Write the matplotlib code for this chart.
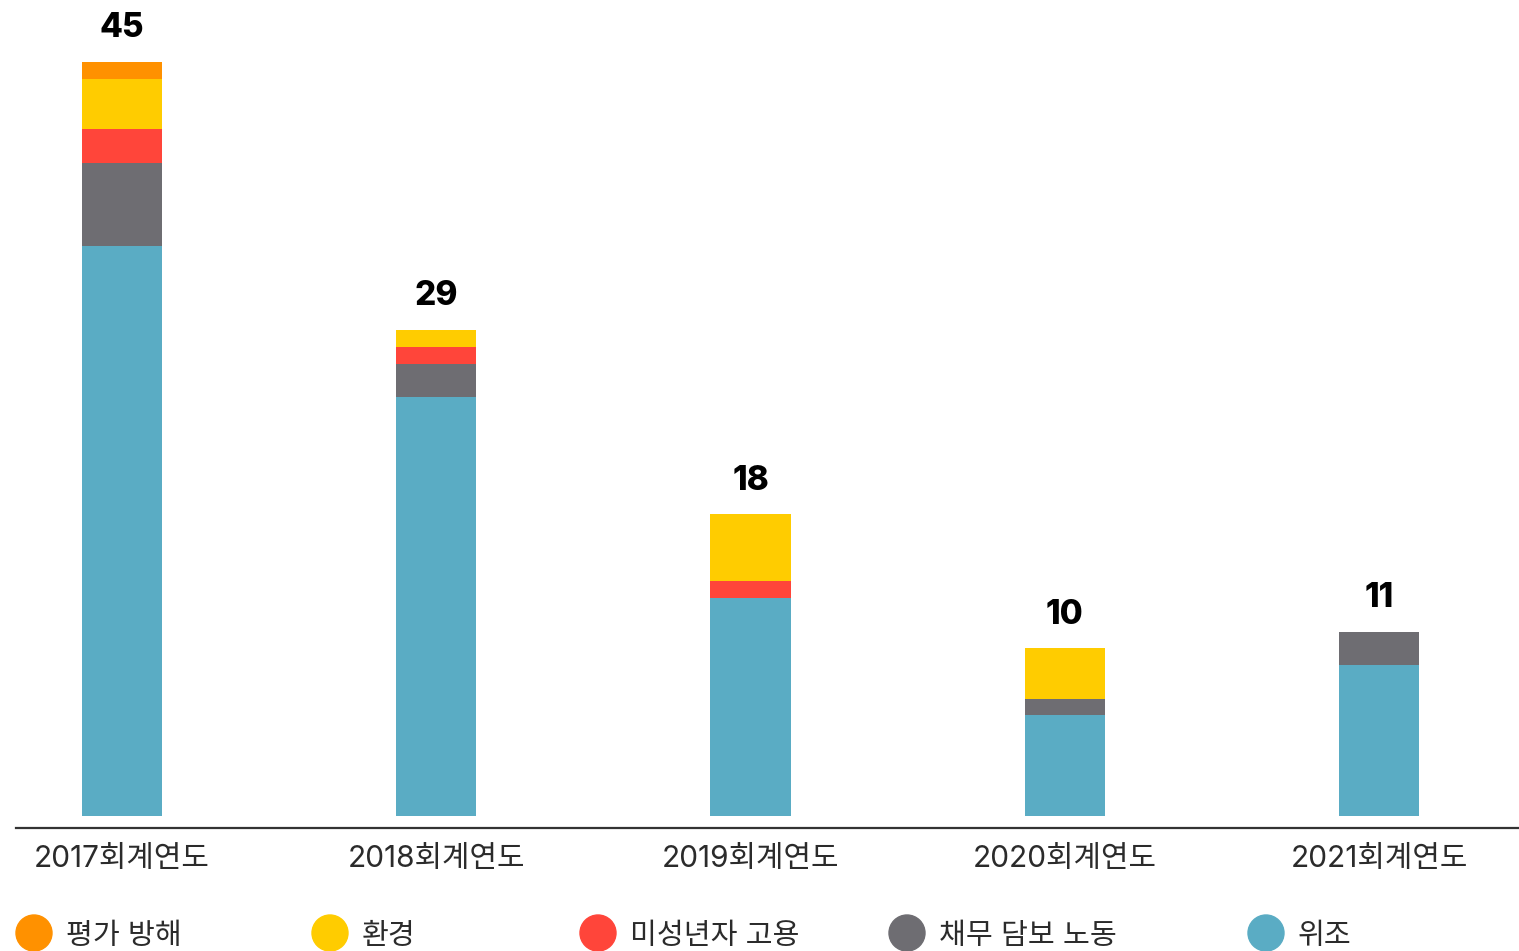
import numpy as np
import matplotlib
matplotlib.use("Agg")
import matplotlib.pyplot as plt
from matplotlib.patches import Ellipse

plt.rcParams['font.family'] = ['Inter', 'Noto Sans CJK KR', 'DejaVu Sans']

# data
years = ["2017회계연도", "2018회계연도", "2019회계연도", "2020회계연도", "2021회계연도"]
series_names = ["평가 방해", "환경", "미성년자 고용", "채무 담보 노동", "위조"]
colors = ["#FF9100", "#FFCC00", "#FF453A", "#6E6D72", "#5AACC4"]

forgery = [34, 25, 13, 6, 9]
debt_labor = [5, 2, 0, 1, 2]
child_labor = [2, 1, 1, 0, 0]
environment = [3, 1, 4, 3, 0]
obstruction = [1, 0, 0, 0, 0]

# stacking order bottom -> top
stack = [forgery, debt_labor, child_labor, environment, obstruction]
stack_colors = ["#5AACC4", "#6E6D72", "#FF453A", "#FFCC00", "#FF9100"]

W, H = 1519, 951
fig = plt.figure(figsize=(W / 100, H / 100), dpi=100)
ax = fig.add_axes([16 / W, 123 / H, 1 - 16 / W, 828 / H])

x = np.arange(len(years))
bottom = np.zeros(len(years))
for vals, c in zip(stack, stack_colors):
    ax.bar(x, vals, width=0.255, bottom=bottom, color=c, linewidth=0)
    bottom += np.array(vals)

for xi, tot in zip(x, bottom):
    ax.text(xi, tot + 1.05, f"{int(tot)}", ha="center", va="bottom",
            fontsize=24, fontweight="heavy", color="black")

ax.set_xlim(-0.337, 4.445)
ax.set_ylim(-0.72, 48.7)
for s in ["top", "right", "left"]:
    ax.spines[s].set_visible(False)
ax.spines["bottom"].set_color("#333333")
ax.spines["bottom"].set_linewidth(1.6)
ax.set_yticks([])
ax.set_xticks(x)
ax.set_xticklabels(years, fontsize=21.5, color="#2b2b2b")
ax.tick_params(axis="x", length=0, pad=12)

# legend (manual, fixed positions)
legend_x = [34, 330, 598, 907, 1266]
ly = 933
for lx, name, c in zip(legend_x, series_names, colors):
    fig.patches.append(Ellipse((lx / W, 1 - ly / H), 36 / W, 36 / H,
                               transform=fig.transFigure, color=c))
    fig.text((lx + 32) / W, 1 - (ly + 3) / H, name, fontsize=21, color="#2b2b2b",
             va="center", ha="left")

fig.savefig("out.png", dpi=100)
